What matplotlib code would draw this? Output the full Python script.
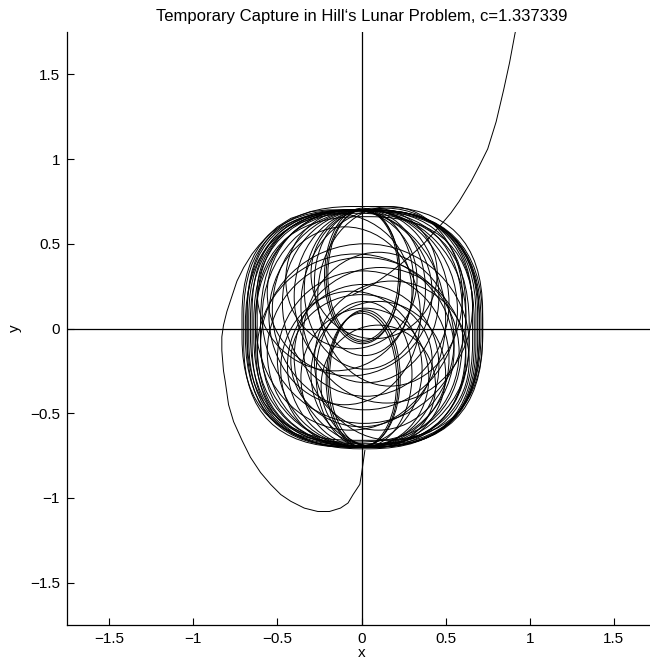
import matplotlib
matplotlib.use("Agg")
import matplotlib.pyplot as plt
from matplotlib.patches import Ellipse, FancyBboxPatch

# Outer loops are squarish, the inner ones nearly elliptic.
outer_left = [-0.67, -0.68, -0.66, -0.70, -0.64, -0.62, -0.69, -0.65, -0.60,
              -0.68, -0.63, -0.71]
outer_right = [0.70, 0.69, 0.71, 0.68, 0.72, 0.66, 0.64, 0.62, 0.70, 0.72,
               0.67, 0.60]
outer_bottom = [-0.70, -0.70, -0.69, -0.70, -0.70, -0.68, -0.70, -0.69, -0.70,
                -0.66, -0.71, -0.67]
outer_top = [0.70, 0.70, 0.70, 0.69, 0.70, 0.70, 0.68, 0.70, 0.70, 0.72,
             0.66, 0.70]
outer_round = [0.92, 0.90, 0.95, 0.88, 0.96, 0.92, 0.98, 0.93, 1.0, 0.90,
               0.95, 0.94]

inner_left = [-0.21, -0.20, -0.22, -0.28, -0.34, -0.30, -0.40, -0.47, -0.53,
              -0.59, -0.45, -0.56, -0.26, -0.36, -0.63,
              -0.20, -0.21, -0.19, -0.27, -0.42, -0.36, -0.44, -0.50, -0.56,
              -0.60, -0.30, -0.48, -0.62, -0.40, -0.24,
              -0.55, -0.35, -0.62, -0.28]
inner_right = [0.23, 0.22, 0.23, 0.31, 0.38, 0.45, 0.46, 0.52, 0.57,
               0.62, 0.33, 0.42, 0.60, 0.66, 0.50,
               0.22, 0.21, 0.23, 0.30, 0.42, 0.40, 0.46, 0.52, 0.58,
               0.64, 0.50, 0.36, 0.55, 0.62, 0.44,
               0.35, 0.55, 0.30, 0.64]
inner_bottom = [-0.08, -0.07, -0.09, -0.16, -0.24, -0.06, -0.32, -0.40, -0.48,
                -0.56, -0.12, -0.28, -0.34, -0.44, -0.60,
                -0.70, -0.70, -0.69, -0.70, -0.58, -0.70, -0.70, -0.70, -0.70,
                -0.70, -0.70, -0.70, -0.70, -0.70, -0.70,
                -0.45, -0.60, -0.25, -0.66]
inner_top = [0.70, 0.70, 0.71, 0.70, 0.70, 0.71, 0.70, 0.70, 0.70,
             0.70, 0.70, 0.70, 0.72, 0.71, 0.70,
             0.10, 0.09, 0.11, 0.16, 0.20, 0.12, 0.26, 0.34, 0.42,
             0.50, 0.16, 0.22, 0.44, 0.36, 0.02,
             0.60, 0.45, 0.68, 0.28]

# way in: the wide loop past the lower left
entry_x = [-0.10, -0.20, -0.30, -0.42, -0.50, -0.555, -0.61, -0.65, -0.70, -0.74,
           -0.77, -0.80, -0.82, -0.83, -0.83, -0.82, -0.81, -0.79, -0.76,
           -0.71, -0.66, -0.60, -0.54, -0.48, -0.42, -0.34, -0.26, -0.19,
           -0.125, -0.08, -0.05, -0.01, 0.0, 0.02]
entry_y = [0.70, 0.70, 0.69, 0.65, 0.60, 0.55, 0.49, 0.44, 0.36, 0.28,
           0.19, 0.10, 0.02, -0.05, -0.13, -0.25, -0.31, -0.45, -0.55,
           -0.66, -0.76, -0.85, -0.92, -0.98, -1.02, -1.06, -1.08, -1.08,
           -1.06, -1.03, -0.98, -0.92, -0.86, -0.72]

# way out: escape towards the upper right
exit_x = [-0.05, 0.07, 0.17, 0.27, 0.37, 0.47, 0.53, 0.58, 0.65, 0.70,
          0.75, 0.80, 0.845, 0.88, 0.91, 0.92]
exit_y = [0.20, 0.26, 0.33, 0.41, 0.50, 0.61, 0.68, 0.75, 0.865, 0.96,
          1.06, 1.22, 1.41, 1.57, 1.73, 1.78]

ticks = [-1.5, -1, -0.5, 0, 0.5, 1, 1.5]
tick_labels = ["\u22121.5", "\u22121", "\u22120.5", "0", "0.5", "1", "1.5"]

plt.rcParams["font.family"] = ["Liberation Sans", "DejaVu Sans"]

fig = plt.figure(figsize=(6.5, 6.64), dpi=100)
ax = fig.add_axes([67 / 650, 39 / 664, 589 / 650, 593 / 664])

lw = 0.7

for x0, x1, y0, y1, f in zip(outer_left, outer_right, outer_bottom, outer_top,
                             outer_round):
    r = f * min(x1 - x0, y1 - y0) / 2
    ax.add_patch(FancyBboxPatch((x0, y0), x1 - x0, y1 - y0,
                                boxstyle="round,pad=0,rounding_size=%f" % r,
                                fill=False, edgecolor="black", lw=lw))

for x0, x1, y0, y1 in zip(inner_left, inner_right, inner_bottom, inner_top):
    ax.add_patch(Ellipse(((x0 + x1) / 2, (y0 + y1) / 2), x1 - x0, y1 - y0,
                         fill=False, edgecolor="black", lw=lw))

ax.plot(entry_x, entry_y, color="black", lw=lw)
ax.plot(exit_x, exit_y, color="black", lw=lw)

ax.axhline(0, color="black", lw=0.9)
ax.axvline(0, color="black", lw=0.9)

ax.set_xlim(-1.75, 1.75)
ax.set_ylim(-1.75, 1.75)
ax.set_xticks(ticks)
ax.set_xticklabels(tick_labels)
ax.set_yticks(ticks)
ax.set_yticklabels(tick_labels)
ax.tick_params(direction="in", length=5, width=0.8, labelsize=11, pad=5)
ax.spines["top"].set_visible(False)
ax.spines["right"].set_visible(False)
for s in ["left", "bottom"]:
    ax.spines[s].set_linewidth(0.9)

ax.set_title("Temporary Capture in Hill\u2018s Lunar Problem, c=1.337339",
             fontsize=12, pad=8)
ax.set_xlabel("x", fontsize=11, labelpad=0)
ax.set_ylabel("y", fontsize=11, labelpad=6)

fig.savefig("out.png", dpi=100)
